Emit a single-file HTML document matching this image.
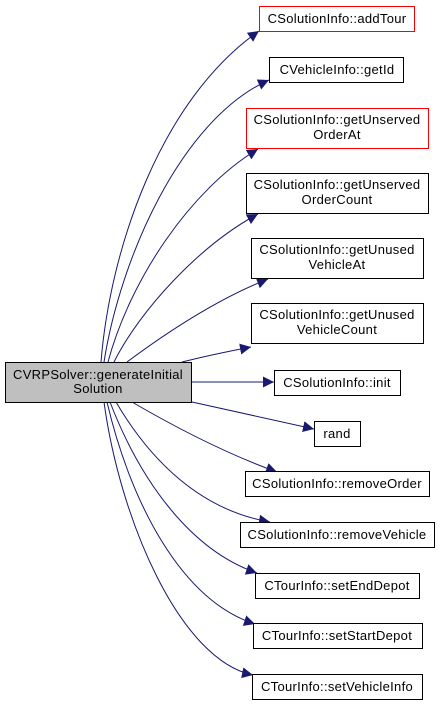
<!DOCTYPE html>
<html><head><style>
body{margin:0;background:#fff;width:440px;height:705px;overflow:hidden}
svg{display:block}
text{font-family:"Liberation Sans",sans-serif;font-size:13px;letter-spacing:0.3px;text-anchor:middle;fill:#000}
</style></head><body>
<svg width="440" height="705" viewBox="0 0 440 705">
<defs><marker id="a" viewBox="0 0 10 10" refX="10" refY="5" markerWidth="11" markerHeight="11" markerUnits="userSpaceOnUse" orient="auto"><path d="M0,0 L10,5 L0,10 z" fill="#191970"/></marker></defs>
<g fill="none" stroke="#191970" stroke-width="1" marker-end="url(#a)">
<path d="M101,362 C110,250 160,100 259,31"/>
<path d="M104,362 C120,260 180,120 269,80"/>
<path d="M108,362 C130,280 190,190 258,149"/>
<path d="M114,362 C140,310 200,245 258,214"/>
<path d="M127,362 C170,330 220,298 268,279"/>
<path d="M182,362 C210,355 230,351 251,347"/>
<path d="M192,382 L274,382"/>
<path d="M192,402 L314,429"/>
<path d="M132,402 C180,430 230,455 277,472"/>
<path d="M116,402 C150,460 200,510 270,522"/>
<path d="M110,402 C140,480 190,550 257,573"/>
<path d="M107,402 C130,500 180,600 255,624"/>
<path d="M104,402 C120,520 180,660 253,675"/>
</g>
<g stroke-width="1">
<rect x="5.5" y="362.5" width="186" height="40" fill="#bfbfbf" stroke="#000"/>
<rect x="259.5" y="6.5" width="155" height="25" fill="#fff" stroke="#ff0000"/>
<rect x="269.5" y="57.5" width="134" height="25" fill="#fff" stroke="#000"/>
<rect x="246.5" y="108.5" width="182" height="40" fill="#fff" stroke="#ff0000"/>
<rect x="246.5" y="173.5" width="182" height="40" fill="#fff" stroke="#000"/>
<rect x="251.5" y="238.5" width="172" height="40" fill="#fff" stroke="#000"/>
<rect x="251.5" y="303.5" width="172" height="40" fill="#fff" stroke="#000"/>
<rect x="274.5" y="370.5" width="126" height="25" fill="#fff" stroke="#000"/>
<rect x="314.5" y="421.5" width="46" height="25" fill="#fff" stroke="#000"/>
<rect x="245.5" y="471.5" width="184" height="25" fill="#fff" stroke="#000"/>
<rect x="240.5" y="522.5" width="194" height="25" fill="#fff" stroke="#000"/>
<rect x="255.5" y="573.5" width="164" height="25" fill="#fff" stroke="#000"/>
<rect x="253.5" y="623.5" width="169" height="25" fill="#fff" stroke="#000"/>
<rect x="252.5" y="674.5" width="170" height="25" fill="#fff" stroke="#000"/>
</g>
<text x="98" y="379">CVRPSolver::generateInitial</text>
<text x="98" y="393">Solution</text>
<text x="337" y="23">CSolutionInfo::addTour</text>
<text x="337" y="74">CVehicleInfo::getId</text>
<text x="337" y="124">CSolutionInfo::getUnserved</text>
<text x="337" y="139">OrderAt</text>
<text x="337" y="189">CSolutionInfo::getUnserved</text>
<text x="337" y="204">OrderCount</text>
<text x="337" y="254">CSolutionInfo::getUnused</text>
<text x="337" y="269">VehicleAt</text>
<text x="337" y="319">CSolutionInfo::getUnused</text>
<text x="337" y="334">VehicleCount</text>
<text x="337" y="387">CSolutionInfo::init</text>
<text x="337" y="438">rand</text>
<text x="337" y="488">CSolutionInfo::removeOrder</text>
<text x="337" y="539">CSolutionInfo::removeVehicle</text>
<text x="337" y="590">CTourInfo::setEndDepot</text>
<text x="337" y="640">CTourInfo::setStartDepot</text>
<text x="337" y="691">CTourInfo::setVehicleInfo</text>
</svg>
</body></html>
